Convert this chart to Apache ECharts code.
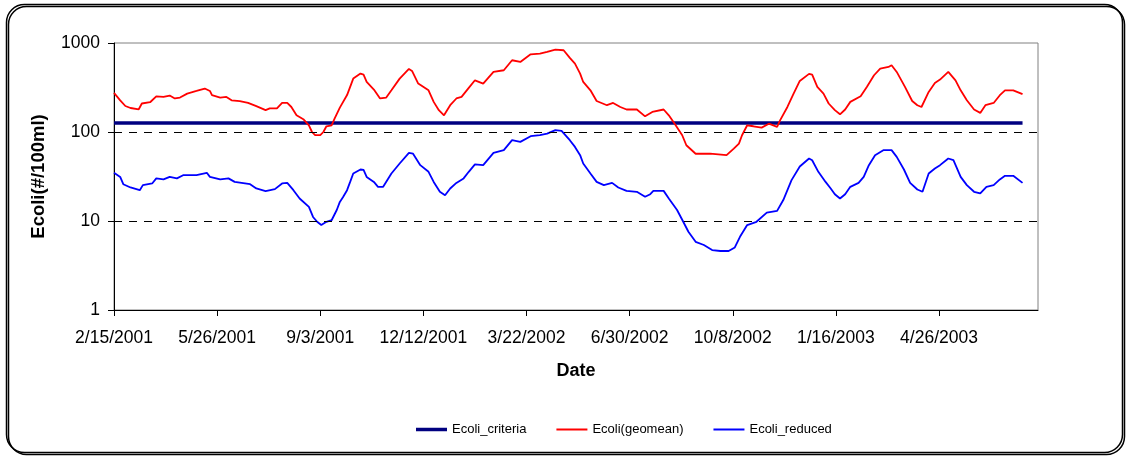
<!DOCTYPE html>
<html>
<head>
<meta charset="utf-8">
<script src="https://cdn.jsdelivr.net/npm/echarts@6/dist/echarts.min.js"></script>
<style>
  html, body { margin: 0; padding: 0; background: #ffffff; }
  #chart { width: 1127px; height: 457px; }
</style>
</head>
<body>
<div id="chart"></div>
<script>
// Days are counted from 2/15/2001 (day 0).
const tickDays = [0, 100, 200, 300, 400, 500, 600, 700, 800];
const tickLabels = ['2/15/2001', '5/26/2001', '9/3/2001', '12/12/2001', '3/22/2002',
                    '6/30/2002', '10/8/2002', '1/16/2003', '4/26/2003'];
const dashedLevels = [10, 100];

const seriesNames = ['Ecoli_criteria', 'Ecoli(geomean)', 'Ecoli_reduced'];

const criteriaDays = [0, 881];
const criteriaValues = [126, 126];

const geomeanDays = [0, 6, 11, 16, 24, 27, 35, 41, 48, 54, 59, 64, 71, 80, 88, 93, 95, 103, 109, 114,
  122, 130, 138, 147, 151, 158, 163, 168, 172, 177, 184, 189, 192, 195, 200, 203, 206, 211, 214, 219,
  226, 232, 239, 242, 245, 252, 258, 264, 269, 277, 286, 289, 295, 305, 310, 315, 320, 326, 332, 337,
  344, 350, 358, 368, 378, 386, 394, 404, 413, 420, 428, 436, 442, 447, 452, 455, 462, 468, 478, 484,
  491, 497, 507, 515, 522, 533, 538, 544, 551, 555, 564, 578, 586, 594, 601, 606, 609, 614, 620, 628,
  635, 643, 646, 653, 659, 665, 674, 677, 682, 688, 693, 699, 704, 709, 714, 724, 730, 737, 743, 751,
  754, 759, 767, 774, 779, 783, 790, 796, 801, 809, 816, 821, 827, 834, 840, 845, 853, 859, 864, 872, 881];
const geomeanValues = [275, 227, 196, 186, 180, 209, 216, 252, 248, 257, 238, 244, 270, 289, 308, 289, 259, 244, 248, 227,
  222, 212, 195, 176, 184, 184, 212, 212, 191, 154, 138, 119, 100, 92, 92, 100, 116, 119, 142, 188,
  260, 398, 453, 442, 365, 300, 238, 244, 294, 398, 511, 486, 350, 294, 218, 176, 154, 200, 238, 248,
  313, 381, 350, 473, 494, 640, 612, 747, 760, 793, 844, 829, 680, 587, 453, 365, 294, 223, 200, 212,
  191, 179, 179, 150, 168, 179, 154, 122, 92, 71, 57, 57, 56, 55, 65, 74, 92, 119, 116, 112,
  124, 114, 136, 191, 270, 375, 450, 442, 321, 270, 209, 176, 158, 179, 218, 252, 321, 434, 516, 538,
  562, 473, 321, 223, 200, 191, 282, 356, 388, 473, 381, 294, 227, 179, 164, 200, 212, 259, 294, 294, 266];

const reducedDays = [0, 6, 9, 16, 25, 28, 37, 41, 48, 54, 61, 67, 80, 90, 93, 103, 111, 117, 132, 138,
  147, 156, 163, 168, 174, 180, 189, 193, 197, 201, 206, 211, 216, 219, 222, 226, 229, 232, 239, 242,
  245, 252, 256, 261, 269, 277, 286, 290, 297, 305, 310, 316, 321, 326, 332, 339, 344, 350, 358, 368,
  378, 386, 394, 404, 413, 420, 428, 434, 442, 447, 452, 455, 462, 468, 475, 483, 489, 497, 507, 515,
  520, 523, 533, 538, 546, 552, 557, 564, 572, 580, 588, 596, 602, 607, 614, 623, 633, 643, 649, 657,
  665, 674, 677, 683, 690, 695, 699, 704, 709, 714, 722, 727, 732, 738, 746, 754, 759, 766, 772, 779,
  784, 790, 796, 801, 809, 814, 821, 827, 834, 840, 846, 853, 859, 864, 872, 881];
const reducedValues = [34.8, 31.3, 25.9, 23.8, 22.2, 25.3, 26.4, 30.1, 29.3, 31.3, 30.1, 32.7, 32.7, 34.8, 31.3, 29.3, 30.1, 27.5, 25.9, 23.2,
  21.7, 22.8, 26.4, 26.8, 22.2, 17.9, 14.4, 11.1, 9.8, 9.0, 9.8, 10.2, 13.3, 16.4, 18.5, 22.2, 27.5, 34.2, 37.9, 37.5,
  31.3, 27.5, 24.2, 24.2, 34.2, 44.3, 58.3, 57, 42.4, 35.7, 27.5, 21.3, 19.5, 23.2, 26.8, 30.1, 35.7, 43.2, 42.4, 58.3,
  62.5, 80.9, 77.4, 89.7, 92, 96, 105, 103, 80.9, 68, 54.9, 44.3, 34.2, 27.5, 25.3, 26.8, 23.8, 21.8, 21.3, 18.7,
  20, 21.8, 21.8, 17.9, 13.3, 9.8, 7.57, 5.84, 5.37, 4.71, 4.6, 4.6, 5.05, 6.65, 9.0, 9.8, 12.4, 13.0, 17.2, 28.8,
  41, 50.4, 48.2, 35.7, 27.5, 23.2, 20, 17.9, 20, 24.2, 26.8, 31.3, 42.4, 54.9, 62.5, 62.5, 52.6, 37.9, 26.8, 22.6,
  21.3, 34.2, 38.9, 42.4, 50.4, 48.2, 31.3, 25.3, 21.3, 20.4, 24.2, 25.3, 29.3, 32.2, 32.2, 26.8];

const pairs = (xs, ys) => xs.map((x, i) => [x, ys[i]]);

const baseFont = "'Liberation Sans', Arial, sans-serif";
const chart = echarts.init(document.getElementById('chart'), null, { renderer: 'canvas' });

chart.setOption({
  animation: false,
  backgroundColor: '#ffffff',
  textStyle: { fontFamily: baseFont },
  graphic: [{
    type: 'rect',
    z: -10,
    silent: true,
    shape: { x: 6.5, y: 4.5, width: 1116, height: 448, r: 18 },
    style: {
      fill: 'none', stroke: '#000000', lineWidth: 1.5,
      shadowColor: '#000000', shadowBlur: 0, shadowOffsetX: 2, shadowOffsetY: 2
    }
  }],
  grid: {
    left: 114, right: 89, top: 43, bottom: 147,
    show: true, borderColor: '#808080', borderWidth: 1, backgroundColor: 'transparent'
  },
  legend: {
    left: 411, top: 418,
    itemWidth: 31, itemHeight: 14, itemGap: 30,
    symbolKeepAspect: true,
    textStyle: { fontFamily: baseFont, fontSize: 13, color: '#000' },
    data: [
      { name: seriesNames[0], icon: 'path://M0,0H31V3.5H0Z' },
      { name: seriesNames[1], icon: 'path://M0,0H31V2H0Z' },
      { name: seriesNames[2], icon: 'path://M0,0H31V2H0Z' }
    ]
  },
  xAxis: {
    type: 'value',
    min: 0, max: 896, interval: 100,
    name: 'Date',
    nameLocation: 'middle',
    nameGap: 52,
    nameTextStyle: { fontSize: 18, fontWeight: 'bold', color: '#000', fontFamily: baseFont },
    axisLine: { show: true, onZero: false, lineStyle: { color: '#000', width: 1 } },
    axisTick: { show: true, inside: false, length: 6, lineStyle: { color: '#000' }, customValues: tickDays },
    axisLabel: {
      fontSize: 17.5, color: '#000', margin: 19.5, customValues: tickDays,
      formatter: v => tickLabels[tickDays.indexOf(v)] || ''
    },
    splitLine: { show: false }
  },
  yAxis: {
    type: 'log', logBase: 10, min: 1, max: 1000,
    name: 'Ecoli(#/100ml)',
    nameLocation: 'middle',
    nameGap: 66,
    nameTextStyle: { fontSize: 18.5, fontWeight: 'bold', color: '#000', fontFamily: baseFont },
    axisLine: { show: true, lineStyle: { color: '#000', width: 1 } },
    axisTick: { show: true, inside: false, length: 6, lineStyle: { color: '#000' } },
    axisLabel: { fontSize: 17.5, color: '#000', margin: 14, formatter: v => String(v) },
    splitLine: { show: false }
  },
  series: [
    {
      name: seriesNames[0], type: 'line', symbol: 'none', showSymbol: false,
      data: pairs(criteriaDays, criteriaValues),
      lineStyle: { color: '#000080', width: 3.5 }, itemStyle: { color: '#000080' },
      markLine: {
        silent: true, symbol: 'none', label: { show: false },
        lineStyle: { color: '#000', type: [8, 7], width: 1 },
        data: dashedLevels.map(v => ({ yAxis: v }))
      },
      z: 2
    },
    {
      name: seriesNames[1], type: 'line', symbol: 'none', showSymbol: false,
      data: pairs(geomeanDays, geomeanValues),
      lineStyle: { color: '#ff0000', width: 1.8 }, itemStyle: { color: '#ff0000' },
      z: 3
    },
    {
      name: seriesNames[2], type: 'line', symbol: 'none', showSymbol: false,
      data: pairs(reducedDays, reducedValues),
      lineStyle: { color: '#0000ff', width: 1.8 }, itemStyle: { color: '#0000ff' },
      z: 4
    }
  ]
});
</script>
</body>
</html>
